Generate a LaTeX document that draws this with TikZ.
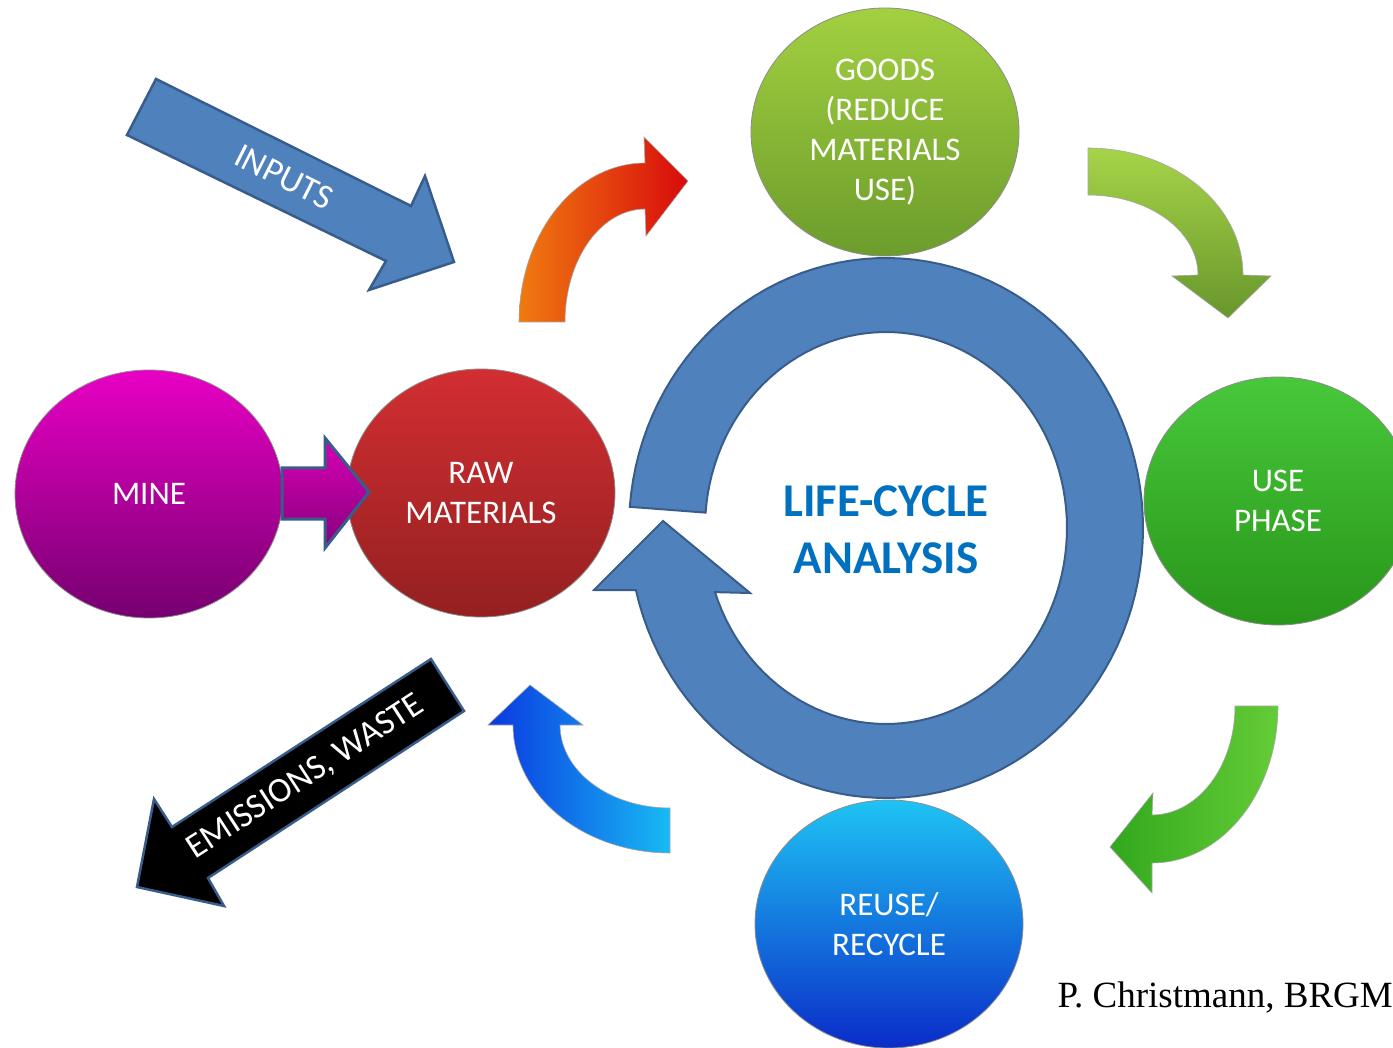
\documentclass[tikz,border=0pt]{standalone}
\usepackage{fontspec}
\setmainfont{Carlito}
\newfontfamily\timesf{Liberation Serif}
\usetikzlibrary{shapes.geometric}
\definecolor{ringfill}{HTML}{4F81BD}
\definecolor{ringdraw}{HTML}{385D8A}
\definecolor{lcablue}{HTML}{0070C0}
\tikzset{
  bubble/.style={ellipse, minimum width=268pt, minimum height=248pt, inner sep=0pt,
    text=white, align=center, font=\fontsize{33}{40}\selectfont, draw=black!45, line width=0.8pt},
  blockarrow/.style={fill=ringfill, draw=ringdraw, line width=2.5pt, line join=miter},
  curvedarrow/.style={draw=black!35, line width=0.6pt},
  arrowlabel/.style={text=white, font=\fontsize{35}{40}\selectfont}
}
\begin{document}
\begin{tikzpicture}[x=1pt,y=-1pt]
\useasboundingbox (0,0) rectangle (1393,1048);
\clip (0,0) rectangle (1393,1048);
\fill[white] (0,0) rectangle (1393,1048);

% big life-cycle ring arrow
\filldraw[fill=ringfill, draw=ringdraw, line width=2pt, line join=miter]
  plot[domain=184.5:526.7, samples=120] ({886+257*cos(\x)},{528+270*sin(\x)})
  -- (594,590) -- (663,521) -- (750,593)
  -- plot[domain=520.9:184.5, samples=120] ({886+181*cos(\x)},{528+196*sin(\x)})
  -- cycle;
\node[text=lcablue, font=\bfseries\fontsize{47}{57}\selectfont, align=center] (lca) at (886,530) {LIFE-CYCLE\\ANALYSIS};

% circles
\node[bubble, top color={rgb,255:red,232;green,0;blue,196}, bottom color={rgb,255:red,118;green,0;blue,112}] (mine) at (149,494) {MINE};
\node[bubble, top color={rgb,255:red,210;green,46;blue,50}, bottom color={rgb,255:red,148;green,32;blue,32}] (raw) at (481,493) {RAW\\MATERIALS};
\node[bubble, top color={rgb,255:red,162;green,208;blue,64}, bottom color={rgb,255:red,108;green,156;blue,44}] (goods) at (885,132) {GOODS\\(REDUCE\\MATERIALS\\USE)};
\node[bubble, top color={rgb,255:red,72;green,200;blue,58}, bottom color={rgb,255:red,40;green,150;blue,26}] (use) at (1278,501) {USE\\PHASE};
\node[bubble, top color={rgb,255:red,30;green,196;blue,244}, bottom color={rgb,255:red,10;green,44;blue,200}] (reuse) at (889,924) {REUSE/\\RECYCLE};

% MINE -> RAW block arrow
\path[top color={rgb,255:red,216;green,0;blue,180}, bottom color={rgb,255:red,136;green,0;blue,126}, draw=ringdraw, line width=3pt, line join=miter]
  (282,468) -- (325,468) -- (325,438) -- (369,492) -- (325,548) -- (325,519) -- (282,519) -- cycle;

% INPUTS arrow
\filldraw[blockarrow]
  (156,79) -- (411,206) -- (425,176) -- (454,262) -- (369,290) -- (386,261) -- (127,135) -- cycle;
\node[arrowlabel, rotate=-26.7] (inputs) at (284,177) {INPUTS};

% EMISSIONS, WASTE arrow
\filldraw[fill=black, draw=ringdraw, line width=2.5pt, line join=miter]
  (431,659) -- (464,711) -- (208,878) -- (224,906) -- (137,887) -- (154,799) -- (172,827) -- cycle;
\node[arrowlabel, rotate=33] (emis) at (306,777) {EMISSIONS, WASTE};

% orange curved arrow (RAW -> GOODS)
\shade[left color={rgb,255:red,240;green,122;blue,16}, right color={rgb,255:red,216;green,10;blue,12}]
  (519,322) -- plot[domain=180:270, samples=40] ({645+126*cos(\x)},{322+159*sin(\x)})
  -- (644,137) -- (688,181) -- (646,236) -- (645,209)
  -- plot[domain=270:180, samples=40] ({645+80*cos(\x)},{322+113*sin(\x)}) -- cycle;
\draw[curvedarrow]
  (519,322) -- plot[domain=180:270, samples=40] ({645+126*cos(\x)},{322+159*sin(\x)})
  -- (644,137) -- (688,181) -- (646,236) -- (645,209)
  -- plot[domain=270:180, samples=40] ({645+80*cos(\x)},{322+113*sin(\x)}) -- cycle;

% light green curved arrow (GOODS -> USE)
\shade[top color={rgb,255:red,166;green,212;blue,72}, bottom color={rgb,255:red,104;green,150;blue,44}]
  (1088,148) -- plot[domain=270:360, samples=40] ({1088+155*cos(\x)},{275+127*sin(\x)})
  -- (1271,276) -- (1228,318) -- (1172,276) -- (1198,275)
  -- plot[domain=360:270, samples=40] ({1088+110*cos(\x)},{275+80*sin(\x)}) -- cycle;
\draw[curvedarrow]
  (1088,148) -- plot[domain=270:360, samples=40] ({1088+155*cos(\x)},{275+127*sin(\x)})
  -- (1271,276) -- (1228,318) -- (1172,276) -- (1198,275)
  -- plot[domain=360:270, samples=40] ({1088+110*cos(\x)},{275+80*sin(\x)}) -- cycle;

% green curved arrow (USE -> REUSE)
\shade[right color={rgb,255:red,100;green,204;blue,54}, left color={rgb,255:red,50;green,168;blue,30}]
  (1235,706) -- (1278,706) -- plot[domain=0:90, samples=40] ({1152+126*cos(\x)},{706+157*sin(\x)})
  -- (1152,893) -- (1110,847) -- (1153,793) -- (1152,815)
  -- plot[domain=90:0, samples=40] ({1152+83*cos(\x)},{706+109*sin(\x)}) -- cycle;
\draw[curvedarrow]
  (1235,706) -- (1278,706) -- plot[domain=0:90, samples=40] ({1152+126*cos(\x)},{706+157*sin(\x)})
  -- (1152,893) -- (1110,847) -- (1153,793) -- (1152,815)
  -- plot[domain=90:0, samples=40] ({1152+83*cos(\x)},{706+109*sin(\x)}) -- cycle;

% blue curved arrow (REUSE -> RAW)
\shade[shading angle=135, left color={rgb,255:red,10;green,56;blue,224}, right color={rgb,255:red,24;green,186;blue,244}]
  (670,808) -- (670,853) -- plot[domain=90:180, samples=40] ({670+157*cos(\x)},{725+128*sin(\x)})
  -- (488,725) -- (530,685) -- (583,725) -- (560,725)
  -- plot[domain=180:90, samples=40] ({670+110*cos(\x)},{725+83*sin(\x)}) -- cycle;
\draw[curvedarrow]
  (670,808) -- (670,853) -- plot[domain=90:180, samples=40] ({670+157*cos(\x)},{725+128*sin(\x)})
  -- (488,725) -- (530,685) -- (583,725) -- (560,725)
  -- plot[domain=180:90, samples=40] ({670+110*cos(\x)},{725+83*sin(\x)}) -- cycle;

% credit
\node[anchor=base east, inner sep=0pt, font=\timesf\fontsize{37}{44}\selectfont] (credit) at (1393,1007) {P. Christmann, BRGM};
\end{tikzpicture}
\end{document}
